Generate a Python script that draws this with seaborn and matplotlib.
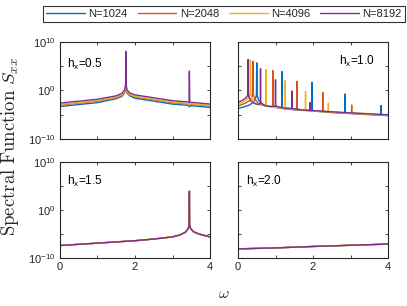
import numpy as np
import pandas as pd
import matplotlib
matplotlib.use("Agg")
import matplotlib.pyplot as plt
import seaborn as sns
from matplotlib.ticker import NullLocator

# Series labels and MATLAB default colours
series = ["N=1024", "N=2048", "N=4096", "N=8192"]
colors = ["#0072BD", "#D95319", "#EDB120", "#7E2F8E"]

# h_x = 0.5 (log10 of S_xx)
w05 = [0, 0.5, 1.0, 1.5, 1.65, 1.72, 1.75, 1.755, 1.76, 1.79, 1.86, 2.0, 2.5, 3.0, 3.4, 3.44, 3.45, 3.46, 3.5, 3.6, 4.0]
s05_1024 = [-3.3, -2.9, -2.5, -1.7, -1.2, -0.5, 0.3, 0.6, 0.3, -0.5, -1.1, -1.6, -2.2, -2.8, -3.05, -3.15, -3.4, -3.15, -3.15, -3.2, -3.5]
s05_2048 = [-3.0, -2.6, -2.2, -1.5, -1.0, -0.3, 0.5, 0.9, 0.5, -0.3, -0.9, -1.3, -1.9, -2.5, -2.75, -2.85, -3.1, -2.85, -2.85, -2.9, -3.2]
s05_4096 = [-2.9, -2.5, -2.1, -1.4, -0.9, -0.2, 0.6, 1.0, 0.6, -0.2, -0.8, -1.2, -1.8, -2.4, -2.65, -2.75, -3.0, -2.75, -2.75, -2.8, -3.1]
s05_8192 = [-2.6, -2.2, -1.8, -1.1, -0.6, 0.1, 1.3, 8.1, 1.3, 0.1, -0.5, -0.9, -1.5, -2.1, -2.35, -2.4, 4.0, -2.4, -2.45, -2.5, -2.8]

# h_x = 1.0
w10_1024 = [0, 0.15, 0.3, 0.4, 0.46, 0.49, 0.50, 0.51, 0.55, 0.65, 0.8, 1.0, 1.165, 1.17, 1.175, 1.5,
            1.965, 1.97, 1.975, 2.4, 2.845, 2.85, 2.855, 3.3, 3.805, 3.81, 3.815, 4.0]
s10_1024 = [-3.7, -3.4, -3.0, -2.5, -1.9, -1.0, 5.7, -1.0, -2.0, -2.8, -3.2, -3.5, -3.7, 3.9, -3.7, -4.0,
            -4.2, 1.7, -4.2, -4.5, -4.7, -0.7, -4.7, -4.9, -5.1, -3.1, -5.1, -5.2]
w10_2048 = [0, 0.1, 0.2, 0.3, 0.36, 0.39, 0.40, 0.41, 0.45, 0.55, 0.7, 0.925, 0.93, 0.935, 1.2, 1.565, 1.57,
            1.575, 1.9, 2.255, 2.26, 2.265, 2.6, 3.025, 3.03, 3.035, 3.5, 4.0]
s10_2048 = [-3.2, -2.9, -2.6, -2.1, -1.6, -0.9, 6.0, -0.9, -1.8, -2.7, -3.1, -3.4, 4.1, -3.4, -3.6, -3.9, 1.9,
            -3.9, -4.1, -4.3, -0.4, -4.3, -4.5, -4.7, -3.0, -4.7, -4.9, -5.1]
w10_4096 = [0, 0.1, 0.2, 0.28, 0.32, 0.33, 0.34, 0.37, 0.45, 0.6, 0.745, 0.75, 0.755, 0.9, 1.1, 1.255, 1.26,
            1.265, 1.5, 1.795, 1.8, 1.805, 2.1, 2.405, 2.41, 2.415, 3.0, 3.5, 4.0]
s10_4096 = [-2.8, -2.5, -2.1, -1.5, -0.8, 6.25, -0.8, -1.6, -2.6, -3.0, -3.1, 4.3, -3.1, -3.4, -3.6, -3.7, 2.0,
            -3.7, -3.9, -4.1, -0.2, -4.1, -4.3, -4.4, -2.6, -4.4, -4.7, -4.9, -5.1]
w10_8192 = [0, 0.1, 0.2, 0.25, 0.265, 0.27, 0.275, 0.29, 0.35, 0.45, 0.55, 0.595, 0.6, 0.605, 0.7, 0.85, 0.995,
            1.0, 1.005, 1.2, 1.435, 1.44, 1.445, 1.7, 1.915, 1.92, 1.925, 2.5, 3.0, 3.5, 4.0]
s10_8192 = [-2.4, -2.1, -1.6, -1.1, -0.6, 6.4, -0.6, -1.3, -2.2, -2.7, -2.9, -2.6, 4.5, -2.6, -3.1, -3.3, -3.2,
            2.2, -3.2, -3.6, -3.7, -0.1, -3.7, -4.0, -4.1, -2.5, -4.1, -4.4, -4.6, -4.8, -5.0]

# h_x = 1.5 (all N overlap)
w15 = [0, 1.0, 2.0, 2.5, 3.0, 3.2, 3.35, 3.42, 3.445, 3.45, 3.455, 3.48, 3.55, 3.7, 4.0]
s15 = [-7.4, -6.9, -6.4, -6.05, -5.6, -5.2, -4.6, -3.8, -3.2, 3.9, -3.2, -3.8, -4.5, -5.0, -5.6]

# h_x = 2.0 (all N overlap)
w20 = [0, 1, 2, 3, 4]
s20 = [-8.1, -7.9, -7.6, -7.35, -7.1]

panels = [
    ("h$_\\mathregular{x}$=0.5", [(w05, s05_1024), (w05, s05_2048), (w05, s05_4096), (w05, s05_8192)]),
    ("h$_\\mathregular{x}$=1.0", [(w10_1024, s10_1024), (w10_2048, s10_2048), (w10_4096, s10_4096), (w10_8192, s10_8192)]),
    ("h$_\\mathregular{x}$=1.5", [(w15, s15)] * 4),
    ("h$_\\mathregular{x}$=2.0", [(w20, s20)] * 4),
]

sns.set_theme(style="ticks")
plt.rcParams["font.family"] = ["Liberation Sans", "DejaVu Sans"]
plt.rcParams["mathtext.fontset"] = "custom"
plt.rcParams["mathtext.rm"] = "Liberation Sans"
plt.rcParams["mathtext.it"] = "Liberation Sans:italic"

fig = plt.figure(figsize=(4.07, 3.06), dpi=100)
positions = [
    [0.1474, 0.5458, 0.3686, 0.3169],
    [0.5848, 0.5458, 0.3686, 0.3169],
    [0.1474, 0.1569, 0.3686, 0.3137],
    [0.5848, 0.1569, 0.3686, 0.3137],
]
text_pos = [(0.05, 0.85), (0.67, 0.88), (0.05, 0.88), (0.05, 0.88)]

for i, ((label, data), pos) in enumerate(zip(panels, positions)):
    ax = fig.add_axes(pos)
    rows = []
    for name, (w, s) in zip(series, data):
        for wi, si in zip(w, s):
            rows.append((name, wi, 10.0 ** si))
    df = pd.DataFrame(rows, columns=["N", "omega", "S"])
    sns.lineplot(data=df, x="omega", y="S", hue="N", hue_order=series, palette=colors,
                 estimator=None, sort=False, legend=False, linewidth=1.0, ax=ax)
    ax.set_yscale("log")
    ax.set_xlim(0, 4)
    ax.set_ylim(1e-10, 1e10)
    ax.set_yticks([1e-10, 1e-5, 1e0, 1e5, 1e10])
    ax.yaxis.set_minor_locator(NullLocator())
    ax.set_xticks([0, 1, 2, 3, 4])
    if i % 2 == 0:
        ax.set_yticklabels([r"$\mathregular{10^{-10}}$", "", r"$\mathregular{10^{0}}$", "", r"$\mathregular{10^{10}}$"])
    else:
        ax.set_yticklabels([])
    if i >= 2:
        ax.set_xticklabels(["0", "", "2", "", "4"])
    else:
        ax.set_xticklabels([])
    ax.set_xlabel("")
    ax.set_ylabel("")
    ax.tick_params(direction="in", top=True, right=True, length=2.5, width=0.6,
                   labelsize=8, colors="#262626", pad=3)
    for sp in ax.spines.values():
        sp.set_visible(True)
        sp.set_linewidth(0.8)
        sp.set_color("#262626")
    ax.text(text_pos[i][0], text_pos[i][1], label, transform=ax.transAxes,
            fontsize=8.5, va="top", ha="left", color="black")

handles = [plt.Line2D([], [], color=c, lw=1.0) for c in colors]
leg = fig.legend(handles, series, loc="center", bbox_to_anchor=(224 / 407, 1 - 14 / 306), ncol=4,
                 fontsize=8, frameon=True, fancybox=False, handlelength=3.5, handletextpad=0.3,
                 columnspacing=0.9, borderpad=0.3)
leg.get_frame().set_edgecolor("black")
leg.get_frame().set_linewidth(0.8)

fig.text(10 / 407, 1 - 146 / 306, r"$\mathrm{Spectral\ Function}\ S_{xx}$", rotation=90, ha="center",
         va="center", fontsize=13.5, math_fontfamily="cm")
fig.text(224 / 407, 1 - 293 / 306, r"$\omega$", ha="center", va="center", fontsize=11.5, math_fontfamily="cm")

fig.savefig("out.png", dpi=100)
